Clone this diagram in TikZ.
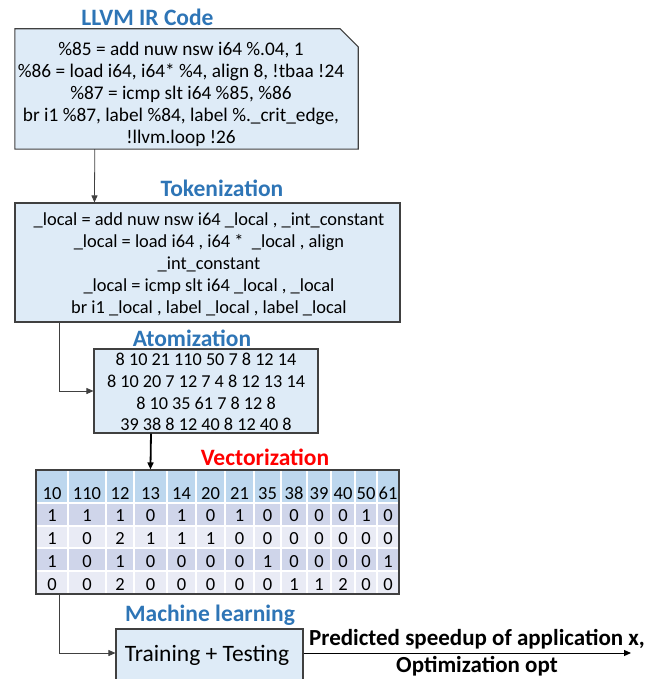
\documentclass[tikz,border=0pt]{standalone}
\usepackage{fontspec}
\setmainfont{Carlito}
\usetikzlibrary{arrows.meta,calc}
\definecolor{ttl}{HTML}{2E75B6}
\definecolor{boxfill}{HTML}{DEEBF7}
\definecolor{boxline}{HTML}{404040}
\definecolor{hdr}{HTML}{BDD7EE}
\definecolor{rowa}{HTML}{CFD5EA}
\definecolor{rowb}{HTML}{E9EBF5}
\tikzset{
  ttlstyle/.style={font=\fontsize{23.5}{26}\selectfont\bfseries, text=ttl, inner sep=0pt},
  bodytext/.style={align=center, inner sep=0pt},
  boxstyle/.style={draw=boxline, fill=boxfill, line width=1.1pt, inner sep=0pt},
  arr/.style={draw=boxline, line width=0.8pt, -{Triangle[length=7pt,width=6pt]}},
  cell/.style={font=\fontsize{18.5}{22}\selectfont, inner sep=0pt, anchor=base},
  outtext/.style={font=\fontsize{23}{26}\selectfont\bfseries, inner sep=0pt}
}
\begin{document}
\begin{tikzpicture}[x=1pt,y=-1pt]
\useasboundingbox (0,0) rectangle (664,679);
\clip (0,0) rectangle (664,679);

% titles
\node[ttlstyle] (t1) at (147.5,17) {LLVM IR Code};
\node[ttlstyle] (t2) at (222,188) {Tokenization};
\node[ttlstyle] (t3) at (192,338) {Atomization};
\node[ttlstyle, text=red] (t4) at (265,457) {Vectorization};
\node[ttlstyle] (t5) at (210,615) {Machine learning};

% box 1 (cut corner)
\node[minimum width=343pt, minimum height=120pt, inner sep=0pt] (b1) at (186.5,89) {};
\draw[boxstyle] (b1.south west) -- (b1.north west) -- ([xshift=-18pt]b1.north east)
  -- ([yshift=-18pt]b1.north east) -- (b1.south east) -- cycle;
\node[bodytext, font=\fontsize{19.3}{22}\selectfont] (b1t) at (181,94) {\%85 = add nuw nsw i64 \%.04, 1\\
\%86 = load i64, i64* \%4, align 8, !tbaa !24\\
\%87 = icmp slt i64 \%85, \%86\\
br i1 \%87, label \%84, label \%.\_crit\_edge,\\
!llvm.loop !26};

% box 2
\node[boxstyle, minimum width=385pt, minimum height=119pt] (b2) at (207.5,262.5) {};
\node[bodytext, font=\fontsize{18.4}{22}\selectfont] (b2t) at (209,264) {\_local = add nuw nsw i64 \_local , \_int\_constant\\
\_local = load i64 , i64 *~ \_local , align\\
\_int\_constant\\
\_local = icmp slt i64 \_local , \_local\\
br i1 \_local , label \_local , label \_local};

% box 3
\node[boxstyle, minimum width=224pt, minimum height=84pt] (b3) at (206,391) {};
\node[bodytext, font=\fontsize{18.2}{21.7}\selectfont] (b3t) at (206,392) {8 10 21 110 50 7 8 12 14\\
8 10 20 7 12 7 4 8 12 13 14\\
8 10 35 61 7 8 12 8\\
39 38 8 12 40 8 12 40 8};

% table
\fill[hdr] (36,470) rectangle (399,502);
\fill[rowa] (36,504) rectangle (399,526);
\fill[rowb] (36,526) rectangle (399,548);
\fill[rowa] (36,548) rectangle (399,571);
\fill[rowb] (36,571) rectangle (399,594);
\foreach \x in {68,106,134,167,196,225,254,281,307,331,355,377}
  \draw[white, line width=1.3pt] (\x,470) -- (\x,594);
\foreach \y in {526,548,571}
  \draw[white, line width=1.3pt] (36,\y) -- (399,\y);
\node[draw=boxline, line width=1.1pt, minimum width=363pt, minimum height=124pt, inner sep=0pt] (tab) at (217.5,532) {};
\def\colx{{52,87,120,150.5,181.5,210.5,239.5,267.5,294,319,343,366,388}}
\foreach \v [count=\i from 0] in {10,110,12,13,14,20,21,35,38,39,40,50,61}
  \node[cell] at ({\colx[\i]},499) {\v};
\foreach \v [count=\i from 0] in {1,1,1,0,1,0,1,0,0,0,0,1,0}
  \node[cell] at ({\colx[\i]},521) {\v};
\foreach \v [count=\i from 0] in {1,0,2,1,1,1,0,0,0,0,0,0,0}
  \node[cell] at ({\colx[\i]},544) {\v};
\foreach \v [count=\i from 0] in {1,0,1,0,0,0,0,1,0,0,0,0,1}
  \node[cell] at ({\colx[\i]},567) {\v};
\foreach \v [count=\i from 0] in {0,0,2,0,0,0,0,0,1,1,2,0,0}
  \node[cell] at ({\colx[\i]},590) {\v};

% ML box
\node[boxstyle, minimum width=187pt, minimum height=52pt] (ml) at (209.5,655) {};
\node[font=\fontsize{23.5}{26}\selectfont, inner sep=0pt] (mlt) at (207,655) {Training + Testing};

% output
\coordinate (out) at (631,653);
\node[outtext] (o1) at (477,639) {Predicted speedup of application x,};
\node[outtext] (o2) at (477,666) {Optimization opt};

% connectors
\draw[arr] ([xshift=80pt]b1.south west) -- ([xshift=80pt]b2.north west);
\draw[arr] ([xshift=45pt]b2.south west) |- (b3.west);
\draw[line width=1.8pt, -{Triangle[length=7pt,width=6pt]}] ([xshift=-55pt]b3.south) -- ([xshift=115pt]tab.north west);
\draw[arr] ([xshift=24pt]tab.south west) |- ([yshift=2pt]ml.west);
\draw[line width=1pt, -{Triangle[length=7pt,width=6pt]}] ([yshift=2pt]ml.east) -- (out);
\end{tikzpicture}
\end{document}
